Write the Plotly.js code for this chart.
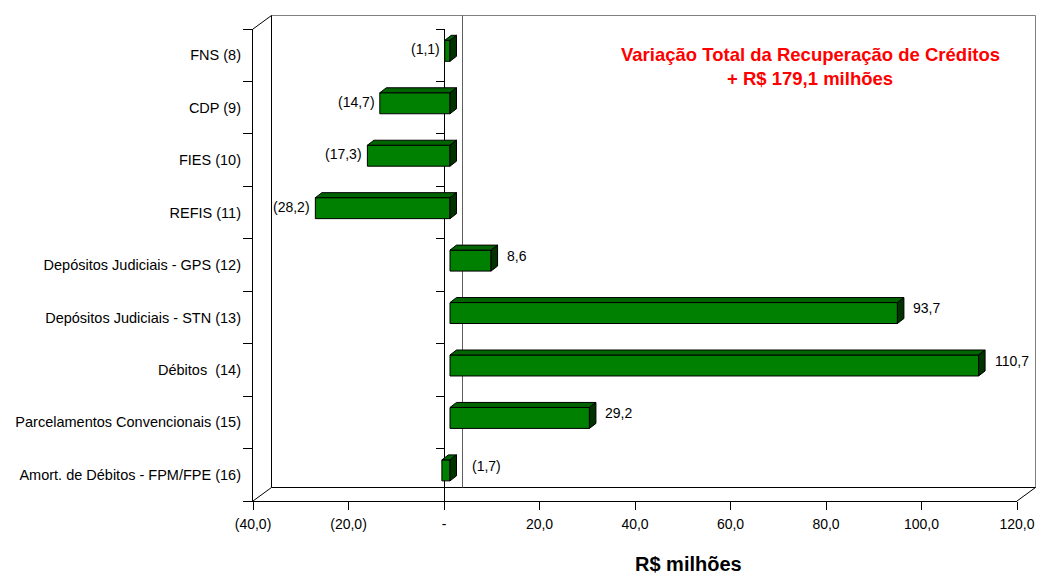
<!DOCTYPE html>
<html>
<head>
<meta charset="utf-8">
<script src="https://cdn.plot.ly/plotly-3.0.1.min.js"></script>
<style>html,body{margin:0;padding:0;background:#fff;}#chart{width:1037px;height:577px;}</style>
</head>
<body>
<div id="chart"></div>
<script>
// ---- data ----
const categories = ['FNS (8)', 'CDP (9)', 'FIES (10)', 'REFIS (11)', 'Depósitos Judiciais - GPS (12)',
  'Depósitos Judiciais - STN (13)', 'Débitos  (14)', 'Parcelamentos Convencionais (15)',
  'Amort. de Débitos - FPM/FPE (16)'];
const values = [-1.1, -14.7, -17.3, -28.2, 8.6, 93.7, 110.7, 29.2, -1.7];
const xTickVals = [-40, -20, 0, 20, 40, 60, 80, 100, 120];
const xTickText = ['(40,0)', '(20,0)', '-', '20,0', '40,0', '60,0', '80,0', '100,0', '120,0'];
const noteLine1 = 'Variação Total da Recuperação de Créditos';
const noteLine2 = '+ R$ 179,1 milhões';
const xTitle = 'R$ milhões';

// ---- styling / geometry (not data) ----
const labelSide = ['left', 'left', 'left', 'left', 'right', 'right', 'right', 'right', 'farRight'];
const W = 1037, H = 577;
const fL = 253, fR = 1017, fT = 29, fB = 501;     // front plane in px
const dX = 18.5, dY = 13.5;                          // wall depth in px
const bX = 6, bY = 4.4;                              // bar front offset in px
const bdX = 6.5, bdY = 5;                            // bar depth in px
const xMin = -40, xMax = 120;
const n = categories.length;
const pxPerX = (fR - fL) / (xMax - xMin);
const pxPerCat = (fB - fT) / n;
const ddx = bdX / pxPerX, ddy = bdY / pxPerCat;
const hw = 0.2;
const FONT = 'Liberation Sans, Arial, sans-serif';
const idx = categories.map((c, i) => i);
const boundaries = []; for (let i = 0; i <= n; i++) boundaries.push(i - 0.5);

function fmt(v) {
  const s = Math.abs(v).toFixed(1).replace('.', ',');
  return v < 0 ? '(' + s + ')' : s;
}

const traces = [];
traces.push({
  type: 'bar', orientation: 'h', x: values, y: idx, xaxis: 'x2', yaxis: 'y2',
  width: 2 * hw, marker: {color: '#008000', line: {color: '#000', width: 1}},
  hoverinfo: 'skip', showlegend: false
});
values.forEach((v, i) => {
  const x0 = Math.min(0, v), x1 = Math.max(0, v), yt = i - hw, yb = i + hw;
  traces.push({
    type: 'scatter', mode: 'lines', xaxis: 'x2', yaxis: 'y2', fill: 'toself',
    x: [x0, x1, x1 + ddx, x0 + ddx, x0], y: [yt, yt, yt - ddy, yt - ddy, yt],
    fillcolor: '#006400', line: {color: '#000', width: 1}, hoverinfo: 'skip', showlegend: false
  });
  traces.push({
    type: 'scatter', mode: 'lines', xaxis: 'x2', yaxis: 'y2', fill: 'toself',
    x: [x1, x1 + ddx, x1 + ddx, x1, x1], y: [yt, yt - ddy, yb - ddy, yb, yt],
    fillcolor: '#003300', line: {color: '#000', width: 1}, hoverinfo: 'skip', showlegend: false
  });
});

const annotations = values.map((v, i) => {
  const side = labelSide[i];
  const a = {xref: 'x2', yref: 'y2', text: fmt(v), showarrow: false,
    font: {family: FONT, size: 14, color: '#000'}};
  if (side === 'left') {
    Object.assign(a, {x: v, y: i - 0.03, xanchor: 'right', xshift: -3});
  } else if (side === 'right') {
    Object.assign(a, {x: v, y: i - 0.09, xanchor: 'left', xshift: 14});
  } else {
    Object.assign(a, {x: Math.max(0, v), y: i - 0.08, xanchor: 'left', xshift: 20});
  }
  return a;
});
annotations.push({xref: 'paper', yref: 'paper', x: 810 / W, y: 1 - 55 / H, text: '<b>' + noteLine1 + '</b>',
  showarrow: false, font: {family: FONT, size: 18.5, color: '#ff0000'}, xanchor: 'center', yanchor: 'middle'});
annotations.push({xref: 'paper', yref: 'paper', x: 810 / W, y: 1 - 79 / H, text: '<b>' + noteLine2 + '</b>',
  showarrow: false, font: {family: FONT, size: 18.5, color: '#ff0000'}, xanchor: 'center', yanchor: 'middle'});
annotations.push({xref: 'paper', yref: 'paper', x: 688 / W, y: 1 - 564 / H, text: '<b>' + xTitle + '</b>',
  showarrow: false, font: {family: FONT, size: 20, color: '#000'}, xanchor: 'center', yanchor: 'middle'});

const px = p => p / W, py = p => 1 - p / H;
const frontX = [px(fL), px(fR)], frontY = [py(fB), py(fT)];
const shapes = [];
function line(x0, y0, x1, y1, color) {
  shapes.push({type: 'line', xref: 'paper', yref: 'paper', x0: px(x0), y0: py(y0), x1: px(x1), y1: py(y1),
    line: {color: color, width: 1}, layer: 'below'});
}
// back wall
line(fL + dX, fT - dY, fR + dX, fT - dY, '#808080');
line(fR + dX, fT - dY, fR + dX, fB - dY, '#808080');
line(fL + dX, fT - dY, fL + dX, fB - dY, '#000');
line(fL + dX, fB - dY, fR + dX, fB - dY, '#000');
// diagonals
line(fL, fT, fL + dX, fT - dY, '#000');
line(fL, fB, fL + dX, fB - dY, '#000');
line(fR, fB, fR + dX, fB - dY, '#000');
// back zero line
const zx = fL + (0 - xMin) * pxPerX + dX;
line(zx, fT - dY, zx, fB - dY, '#606060');

const yCommon = {range: [n - 0.5, -0.5], autorange: false, zeroline: false, showgrid: false, fixedrange: true};
const layout = {
  width: W, height: H, margin: {l: 0, r: 0, t: 0, b: 0},
  paper_bgcolor: '#fff', plot_bgcolor: 'rgba(0,0,0,0)', showlegend: false,
  xaxis: {domain: frontX, range: [xMin, xMax], anchor: 'y', showline: true, linecolor: '#000', linewidth: 1,
    ticks: 'outside', ticklen: 8, tickcolor: '#000', tickvals: xTickVals, ticktext: xTickText,
    tickfont: {family: FONT, size: 14, color: '#000'}, ticklabelstandoff: 2,
    showgrid: false, zeroline: false, fixedrange: true},
  yaxis: Object.assign({domain: frontY, anchor: 'x', showline: true, linecolor: '#000', linewidth: 1,
    ticks: 'outside', ticklen: 9, tickcolor: '#000', tickvals: boundaries, showticklabels: false}, yCommon),
  yaxis3: Object.assign({domain: frontY, overlaying: 'y', anchor: 'x', side: 'left', ticks: '',
    tickvals: idx, ticktext: categories, tickfont: {family: FONT, size: 14.5, color: '#000'},
    ticklabelstandoff: 11, showline: false}, yCommon),
  yaxis4: Object.assign({domain: frontY, overlaying: 'y', anchor: 'free', position: px(fL + (0 - xMin) * pxPerX),
    side: 'left', showline: true, linecolor: '#000', linewidth: 1, ticks: 'outside', ticklen: 8,
    tickcolor: '#000', tickvals: boundaries, showticklabels: false}, yCommon),
  xaxis2: {domain: [px(fL + bX), px(fR + bX)], range: [xMin, xMax], anchor: 'y2', visible: false, fixedrange: true},
  yaxis2: Object.assign({domain: [py(fB - bY), py(fT - bY)], anchor: 'x2', visible: false}, yCommon),
  shapes: shapes,
  annotations: annotations
};

// invisible traces so that the overlay axes render
traces.push({type: 'scatter', x: [null], y: [null], xaxis: 'x', yaxis: 'y3', hoverinfo: 'skip', showlegend: false});
traces.push({type: 'scatter', x: [null], y: [null], xaxis: 'x', yaxis: 'y4', hoverinfo: 'skip', showlegend: false});
traces.push({type: 'scatter', x: [null], y: [null], xaxis: 'x', yaxis: 'y', hoverinfo: 'skip', showlegend: false});

Plotly.newPlot('chart', traces, layout, {staticPlot: true, displayModeBar: false});
</script>
</body>
</html>
